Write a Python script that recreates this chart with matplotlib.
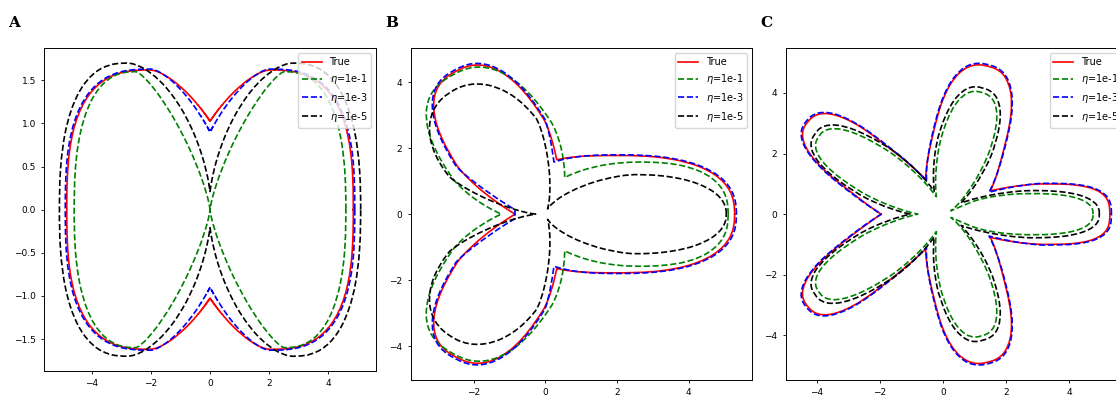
import numpy as np
import matplotlib.pyplot as plt

# -------------------- Data --------------------
# Every curve is the outline of a union of lobes. One lobe per row:
# (axis angle in deg, sideways shift of the axis (clockwise side > 0),
#  inner end, widest point, tip, half width, inner exponent, outer exponent)
# Distances are taken along the lobe axis.
# Panel A is mirrored left/right and up/down, B and C up/down.

a_true = [(0, 0.0, -1.2, 2.0, 4.85, 1.62, 1.5, 2.8)]
a_eta1 = [(0, 0.0, 0.0, 2.5, 4.6, 1.6, 1.3, 2.5)]
a_eta3 = [(0, 0.0, -0.85, 2.0, 4.9, 1.63, 1.5, 2.8)]
a_eta5 = [(0, 0.0, -0.05, 2.8, 5.1, 1.7, 1.7, 2.5)]

b_true = [(0, 0.0, -0.85, 2.0, 5.28, 1.78, 3.0, 2.5),
          (120, 0.0, -0.5, 2.5, 5.0, 1.4, 1.4, 2.5)]
b_eta1 = [(0, 0.0, -0.3, 2.6, 5.1, 1.58, 2.0, 2.5),
          (122, 0.0, -0.3, 2.3, 4.95, 1.62, 1.55, 2.5)]
b_eta3 = [(0, 0.0, -0.85, 2.0, 5.33, 1.8, 2.6, 2.5),
          (120, 0.0, -0.5, 2.5, 5.05, 1.43, 1.2, 2.5)]
b_eta5 = [(0, 0.0, 0.0, 2.5, 5.05, 1.2, 1.6, 2.2),
          (126, 0.0, 0.0, 2.5, 4.55, 1.5, 1.3, 2.2)]

c_true = [(0, 0.0, 0.0, 3.2, 5.28, 1.0, 1.65, 3.0),
          (76.7, 0.23, 0.0, 2.8, 5.08, 1.15, 3.0, 2.5),
          (141, -0.325, 0.0, 3.0, 5.25, 0.95, 3.0, 2.5)]
c_eta1 = [(0, 0.0, 0.45, 2.8, 4.75, 0.68, 2.0, 2.5),
          (73, 0.0, 0.0, 2.5, 4.2, 0.8, 1.6, 2.5),
          (147, 0.0, 0.0, 2.6, 4.7, 0.8, 1.6, 2.5)]
c_eta3 = [(0, 0.0, 0.0, 3.2, 5.33, 1.02, 1.5, 3.0),
          (76.7, 0.23, 0.0, 2.8, 5.13, 1.17, 2.6, 2.5),
          (141, -0.325, 0.0, 3.0, 5.3, 0.97, 2.6, 2.5)]
c_eta5 = [(0, 0.0, 0.0, 2.8, 4.95, 0.78, 1.6, 2.5),
          (73, 0.0, 0.0, 2.5, 4.35, 0.9, 1.6, 2.5),
          (147, 0.0, 0.0, 2.6, 4.85, 0.9, 1.6, 2.5)]

series_labels = ['True', r'$\eta$=1e-1', r'$\eta$=1e-3', r'$\eta$=1e-5']
series_colors = ['red', 'green', 'blue', 'black']
series_styles = ['-', '--', '--', '--']
panel_letters = ['A', 'B', 'C']

# -------------------- Helpers --------------------

def mirrored(lobes, both_axes):
    """Adds the reflected copies of each lobe (a reflection flips its shift)."""
    out = []
    for ang, shift, *rest in lobes:
        out.append((ang, shift, *rest))
        out.append((-ang, -shift, *rest))
        if both_axes:
            out.append((180 - ang, -shift, *rest))
            out.append((180 + ang, shift, *rest))
    return out


def outline(lobes, n_theta=1441, t_max=6.5, n_t=1301):
    """Far edge of the union of lobes, seen from the origin."""
    theta = np.linspace(0, 2 * np.pi, n_theta)
    t = np.linspace(0, t_max, n_t)
    x = t[None, :] * np.cos(theta)[:, None]
    y = t[None, :] * np.sin(theta)[:, None]
    inside = np.zeros(x.shape, dtype=bool)
    for ang, shift, inner, mid, tip, half, n_in, n_out in lobes:
        c, s = np.cos(np.radians(ang)), np.sin(np.radians(ang))
        u = x * c + y * s - mid
        v = -x * s + y * c + shift
        a = np.where(u < 0, mid - inner, tip - mid)
        n = np.where(u < 0, n_in, n_out)
        inside |= (np.abs(u / a) ** n + np.abs(v / half) ** n) <= 1
    last = n_t - 1 - np.argmax(inside[:, ::-1], axis=1)
    r = np.where(inside.any(axis=1), t[last], 0.0)
    return r * np.cos(theta), r * np.sin(theta)


def draw_panel(ax, curves, both_axes):
    for lobes, label, color, ls in zip(curves, series_labels, series_colors, series_styles):
        xs, ys = outline(mirrored(lobes, both_axes))
        ax.plot(xs, ys, color=color, linestyle=ls, linewidth=1.2, label=label)
    ax.legend(loc='upper right', fontsize=7)
    ax.tick_params(labelsize=6.5, length=2.5, width=0.6)
    for sp in ax.spines.values():
        sp.set_linewidth(0.7)


# -------------------- Figure --------------------

fig = plt.figure(figsize=(11.16, 3.97), dpi=100)
ax_a = fig.add_axes([0.0397, 0.0655, 0.297, 0.8128])
ax_b = fig.add_axes([0.368, 0.0428, 0.3058, 0.8355])
ax_c = fig.add_axes([0.704, 0.0428, 0.3058, 0.8355])

draw_panel(ax_a, [a_true, a_eta1, a_eta3, a_eta5], True)
draw_panel(ax_b, [b_true, b_eta1, b_eta3, b_eta5], False)
draw_panel(ax_c, [c_true, c_eta1, c_eta3, c_eta5], False)

for letter, xpos in zip(panel_letters, [0.0075, 0.345, 0.681]):
    fig.text(xpos, 0.932, letter, fontsize=11, fontweight='bold',
             family='DejaVu Serif', va='baseline')

fig.savefig('out.png', dpi=100)
